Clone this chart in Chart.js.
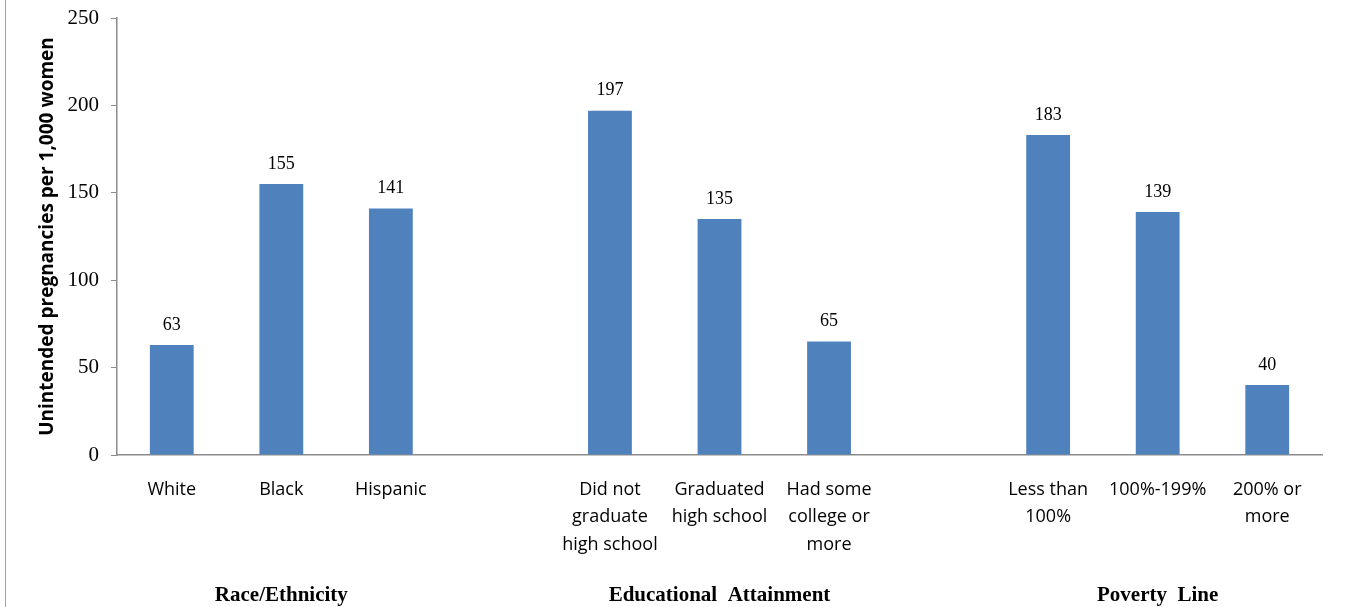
<!DOCTYPE html>
<html>
<head>
<meta charset="utf-8">
<script src="https://cdn.jsdelivr.net/npm/chart.js@4.4.1/dist/chart.umd.min.js"></script>
<style>
  html, body { margin: 0; padding: 0; background: #fff; }
  #wrap { position: relative; width: 1346px; height: 607px; }
  #edge { position: absolute; left: 5px; top: 0; width: 1px; height: 607px; background: #a6a6a6; }
</style>
</head>
<body>
<div id="wrap">
  <div id="edge"></div>
  <canvas id="grafico" width="1346" height="607"></canvas>
</div>
<script>
// categories (blank slots separate the three groups)
const categories = [
  'White', 'Black', 'Hispanic', '',
  ['Did not', 'graduate', 'high school'], ['Graduated', 'high school'], ['Had some', 'college or', 'more'], '',
  ['Less than', '100%'], '100%-199%', ['200% or', 'more']
];
const groupLabels = ['', 'Race/Ethnicity', '', '', '', 'Educational  Attainment', '', '', '', 'Poverty  Line', ''];
const values = [63, 155, 141, null, 197, 135, 65, null, 183, 139, 40];
const yTicks = [0, 50, 100, 150, 200, 250];

const valueLabels = {
  id: 'valueLabels',
  afterDatasetsDraw(chart) {
    const ctx = chart.ctx;
    const meta = chart.getDatasetMeta(0);
    ctx.save();
    ctx.font = '18px "Liberation Serif", "Times New Roman", serif';
    ctx.fillStyle = '#000';
    ctx.textAlign = 'center';
    ctx.textBaseline = 'middle';
    meta.data.forEach((bar, i) => {
      if (values[i] == null) return;
      ctx.fillText(String(values[i]), bar.x, bar.y - 20);
    });
    ctx.restore();
  }
};

new Chart(document.getElementById('grafico').getContext('2d'), {
  type: 'bar',
  data: {
    labels: categories,
    datasets: [{ data: values, backgroundColor: '#4f81bd', categoryPercentage: 1, barPercentage: 0.4 }]
  },
  options: {
    responsive: false,
    animation: false,
    layout: { padding: { left: 0, right: 24, top: 18, bottom: 0 } },
    plugins: { legend: { display: false }, tooltip: { enabled: false } },
    scales: {
      x: {
        grid: { display: false },
        border: { color: '#8c8c8c', width: 1.5 },
        ticks: {
          color: '#000', padding: 13, autoSkip: false, maxRotation: 0,
          font: { family: '"Open Sans", sans-serif', size: 18, lineHeight: 1.53 }
        },
        afterFit(s) { s.height = 115; }
      },
      x2: {
        type: 'category',
        labels: groupLabels,
        position: 'bottom',
        grid: { display: false },
        border: { display: false },
        ticks: {
          color: '#000', padding: 5, autoSkip: false, maxRotation: 0,
          font: { family: '"Liberation Serif", "Times New Roman", serif', size: 21, weight: 'bold', lineHeight: 1.2 }
        },
        afterFit(s) { s.height = 37; }
      },
      y: {
        min: 0, max: 250,
        afterBuildTicks(s) { s.ticks = yTicks.map(v => ({ value: v })); },
        grid: { drawOnChartArea: false, drawTicks: true, tickLength: 6, color: '#8c8c8c' },
        border: { color: '#8c8c8c', width: 1.5 },
        ticks: {
          color: '#000', padding: 12,
          font: { family: '"Liberation Serif", "Times New Roman", serif', size: 21 }
        },
        title: {
          display: true,
          text: 'Unintended pregnancies per 1,000 women',
          color: '#000',
          padding: { top: 36, bottom: 0 },
          font: { family: '"Open Sans", sans-serif', size: 19, weight: 'bold', lineHeight: 1.2 }
        },
        afterFit(s) { s.width = 117; s.paddingTop = 0; s.paddingBottom = 0; }
      }
    }
  },
  plugins: [valueLabels]
});
</script>
</body>
</html>
